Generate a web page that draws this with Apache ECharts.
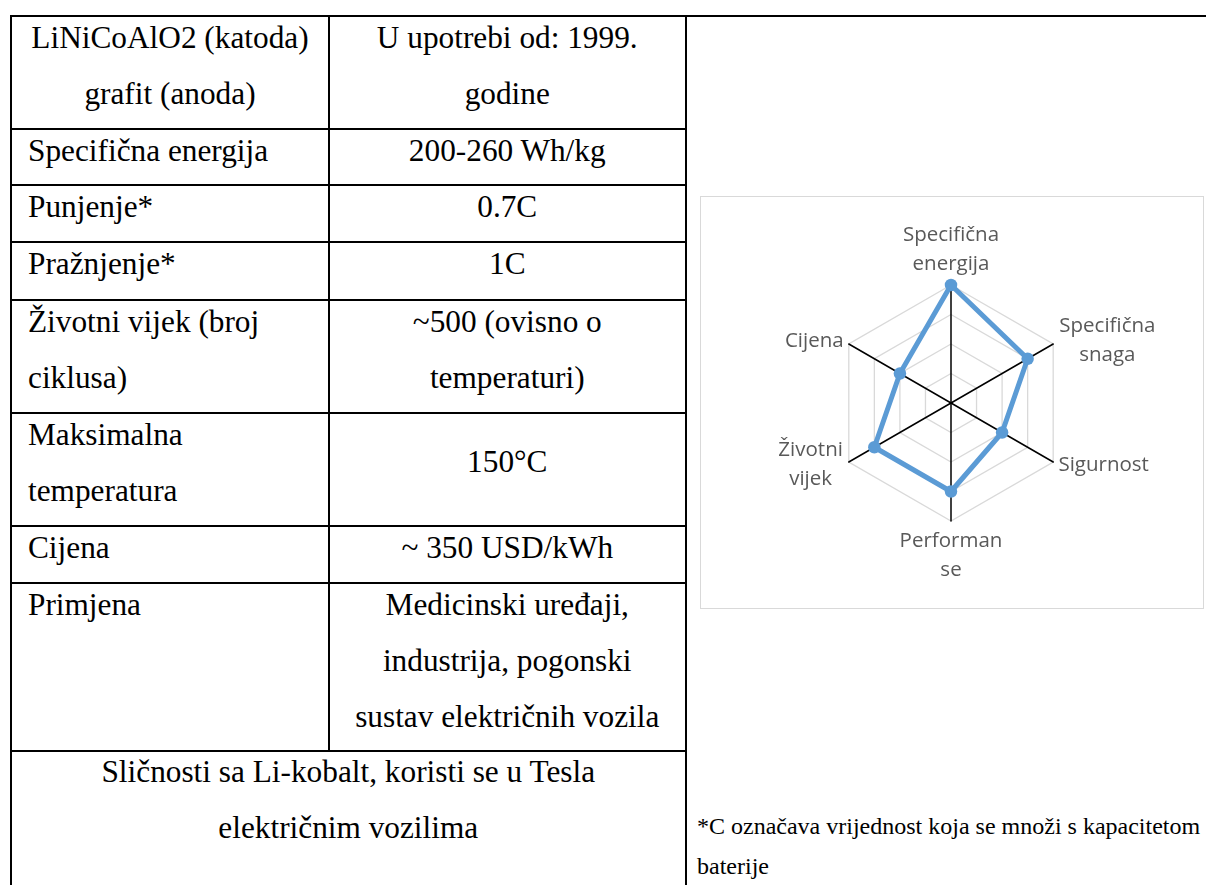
<!DOCTYPE html>
<html>
<head>
<meta charset="utf-8">
<script src="https://cdn.jsdelivr.net/npm/echarts@6/dist/echarts.min.js"></script>
<style>
  html, body { margin: 0; padding: 0; background: #fff; }
  body { width: 1206px; height: 885px; overflow: hidden; position: relative; }
  .ln { position: absolute; background: #000; }
  .tx { position: absolute; font-family: "Liberation Serif", "Times New Roman", serif; font-size: 31.3px;
        line-height: 56px; color: #000; white-space: pre; }
  #box { position: absolute; left: 700px; top: 196px; width: 504px; height: 413px; box-sizing: border-box;
         border: 1px solid #d9d9d9; background: #fff; }
  #chart { width: 502px; height: 411px; }
  #note { position: absolute; left: 697px; top: 806px; font-family: "Liberation Serif", "Times New Roman", serif;
          font-size: 24px; line-height: 40px; color: #000; white-space: pre; }
</style>
</head>
<body>
<div id="box"><div id="chart"></div></div>
<div id="note"></div>
<script>
// ---- radar data (clockwise from top, as in the reference) ----
const categories = ['Specifična\nenergija', 'Specifična\nsnaga', 'Sigurnost', 'Performan\nse', 'Životni\nvijek', 'Cijena'];
const values = [4, 3, 2, 3, 3, 2];
const axisMax = 4;

// ---- table text ----
const colA = ['LiNiCoAlO2 (katoda)\ngrafit (anoda)', 'Specifična energija', 'Punjenje*', 'Pražnjenje*',
  'Životni vijek (broj\nciklusa)', 'Maksimalna\ntemperatura', 'Cijena', 'Primjena'];
const colB = ['U upotrebi od: 1999.\ngodine', '200-260 Wh/kg', '0.7C', '1C', '~500 (ovisno o\ntemperaturi)',
  '150°C', '~ 350 USD/kWh', 'Medicinski uređaji,\nindustrija, pogonski\nsustav električnih vozila'];
const lastRow = 'Sličnosti sa Li-kobalt, koristi se u Tesla\nelektričnim vozilima';
const footnote = '*C označava vrijednost koja se množi s kapacitetom\nbaterije';

// ---- table layout ----
const rowLines = [16, 128.5, 185, 242, 300, 413, 526, 583, 751];
const xL = 11, xM = 329, xR = 685.5;

function addLine(x, y, w, h) {
  const d = document.createElement('div');
  d.className = 'ln';
  d.style.left = x + 'px'; d.style.top = y + 'px'; d.style.width = w + 'px'; d.style.height = h + 'px';
  document.body.appendChild(d);
}
function addText(txt, left, top, width, align) {
  const d = document.createElement('div');
  d.className = 'tx';
  d.textContent = txt;
  d.style.left = left + 'px'; d.style.top = top + 'px';
  if (width) { d.style.width = width + 'px'; }
  d.style.textAlign = align;
  document.body.appendChild(d);
}
// horizontal lines
addLine(xL - 1, rowLines[0] - 1, 1206 - xL + 1, 2);
for (let i = 1; i < rowLines.length; i++) addLine(xL - 1, rowLines[i] - 1, xR - xL + 2, 2);
// vertical lines
addLine(xL - 1, rowLines[0] - 1, 2, 900);
addLine(xM - 1, rowLines[0] - 1, 2, rowLines[rowLines.length - 1] - rowLines[0] + 1);
addLine(xR - 1, rowLines[0] - 1, 2, 900);

for (let i = 0; i < colA.length; i++) {
  const top = rowLines[i] - 6;
  if (i === 0) addText(colA[i], xL + 1, top, xM - xL - 2, 'center');
  else addText(colA[i], 28, top, null, 'left');
  const nLines = colB[i].split('\n').length;
  const rowLinesCount = colA[i].split('\n').length;
  let topB = top;
  if (nLines < rowLinesCount) {
    const c = (rowLines[i] + rowLines[i + 1]) / 2;
    topB = c - 35.6;
  }
  addText(colB[i], xM + 1, topB, xR - xM - 2, 'center');
}
addText(lastRow, xL + 1, rowLines[rowLines.length - 1] - 7, xR - xL - 2, 'center');
document.getElementById('note').textContent = footnote;

// ---- radar chart ----
// ECharts lays indicators out counter-clockwise; reorder so they read clockwise.
const order = [0, 5, 4, 3, 2, 1];
const richWidth = { 'Specifična\nsnaga': 'a', 'Životni\nvijek': 'b' };
const chart = echarts.init(document.getElementById('chart'), null, { renderer: 'canvas' });
chart.setOption({
  animation: false,
  backgroundColor: '#fff',
  radar: {
    center: [250, 206],
    radius: 118,
    startAngle: 90,
    splitNumber: 4,
    shape: 'polygon',
    nameGap: 6,
    indicator: order.map(i => ({ name: categories[i], min: 0, max: axisMax })),
    axisName: {
      color: '#595959',
      fontFamily: 'Open Sans',
      fontSize: 20.5,
      lineHeight: 29,
      formatter: function (name) {
        const k = richWidth[name];
        if (!k) return name;
        return name.split('\n').map(s => '{' + k + '|' + s + '}').join('\n');
      },
      rich: {
        a: { width: 98, align: 'center', fontFamily: 'Open Sans', fontSize: 20.5, lineHeight: 29, color: '#595959' },
        b: { width: 66, align: 'center', fontFamily: 'Open Sans', fontSize: 20.5, lineHeight: 29, color: '#595959' }
      }
    },
    axisLine: { lineStyle: { color: '#000', width: 1.5 } },
    splitLine: { lineStyle: { color: '#d9d9d9', width: 1.3 } },
    splitArea: { show: false },
    axisTick: { show: false },
    axisLabel: { show: false }
  },
  series: [{
    type: 'radar',
    silent: true,
    symbol: 'circle',
    symbolSize: 12.5,
    lineStyle: { color: '#5b9bd5', width: 5 },
    itemStyle: { color: '#5b9bd5' },
    data: [{ value: order.map(i => values[i]) }]
  }]
});
</script>
</body>
</html>
